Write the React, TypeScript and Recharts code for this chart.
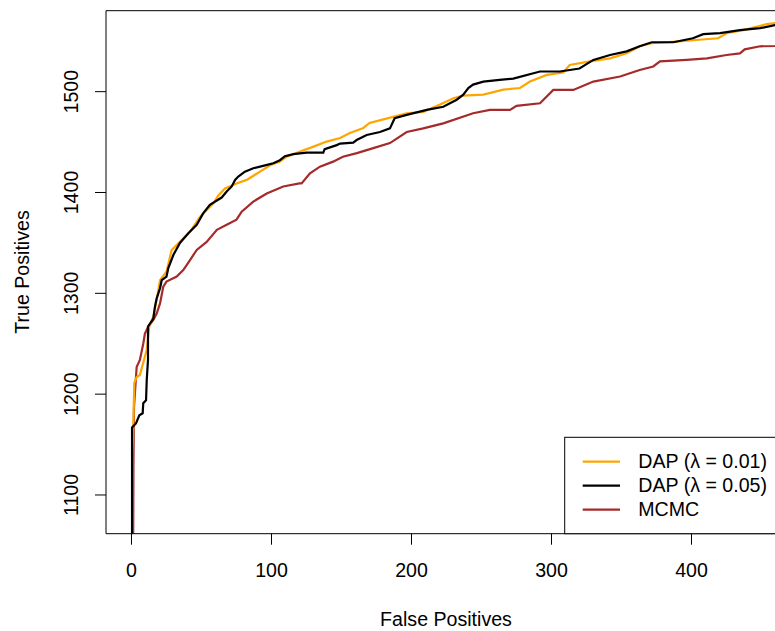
import React from 'react';
import { LineChart, Line, XAxis, YAxis, ReferenceLine } from 'recharts';

const xTicks = [0, 100, 200, 300, 400];
const yTicks = [1100, 1200, 1300, 1400, 1500];
const seriesNames = ['DAP (\u03BB = 0.01)', 'DAP (\u03BB = 0.05)', 'MCMC'];
const seriesColors = ['#FFA500', '#000000', '#A52A2A'];
const xTitle = 'False Positives';
const yTitle = 'True Positives';

const dap001FP = [0.5, 0.6, 1.3, 2, 3.7, 6, 10.9, 12.7, 15.6, 18, 20.4, 25, 28.7, 34.6, 41.8, 49, 58.4, 62, 66.8, 75, 82.3, 91.8, 99, 106, 111, 120, 130, 139.4, 149, 156, 165.6, 170, 180, 196.6, 208.4, 220, 229.9, 237, 251.3, 265.6, 277.5, 284.6, 296.6, 308.4, 313, 327.5, 341.8, 353.7, 363, 371.6, 389, 401, 419, 425, 437, 453.7, 459.6, 468];
const dap001TP = [1050, 1141, 1168, 1211, 1217, 1219, 1244, 1267, 1277, 1293.5, 1313, 1321.5, 1343, 1351, 1361, 1376, 1389, 1397, 1404, 1409, 1412.5, 1420.7, 1427, 1430.6, 1435.5, 1440.5, 1445.5, 1450.5, 1454, 1459, 1464, 1469, 1472.5, 1478.6, 1480, 1487, 1493.5, 1496, 1497, 1502, 1503.6, 1510, 1516.6, 1519, 1526.5, 1530, 1533, 1538, 1545, 1548, 1549.6, 1551, 1553, 1558, 1561, 1567, 1568, 1569];

const dap005FP = [0.4, 0.4, 3.2, 5.6, 8, 8.4, 10.4, 10.9, 11.8, 11.8, 15.6, 16.8, 18, 20.4, 21.6, 25, 26.3, 29.9, 34.6, 40.6, 46.6, 51.3, 56, 64.4, 68, 71.6, 74, 76.3, 81, 87, 94, 101.3, 106, 109.6, 115.6, 125, 137, 138, 146.6, 149, 158.4, 160.8, 168, 177.5, 184.6, 188, 196.6, 210.9, 222.7, 232.3, 237, 240.6, 244, 251.3, 263, 272.7, 291.8, 306, 320, 329.9, 341.8, 353.7, 363, 371.6, 387, 401, 408.4, 420.4, 434.6, 449, 459.6, 468];
const dap005TP = [1050, 1167, 1171, 1179, 1181, 1191, 1194, 1214, 1234, 1267, 1275, 1287, 1295, 1305, 1313, 1316.6, 1325, 1338, 1350, 1359.6, 1368, 1379.5, 1387.7, 1395, 1401, 1406, 1412.5, 1415.8, 1420.7, 1424, 1426.4, 1429, 1432, 1436, 1438, 1439.6, 1439.6, 1443, 1447, 1448.5, 1449.5, 1452, 1457, 1460, 1463.6, 1473.6, 1477, 1482, 1485, 1492, 1497, 1503.6, 1507, 1510, 1511.7, 1513, 1520, 1520, 1523, 1531.5, 1536.4, 1540, 1545, 1549, 1549, 1553, 1557, 1558, 1561, 1563, 1566, 1567];

const mcmcFP = [1.2, 1.4, 1.8, 3.7, 6, 8.4, 9.6, 12, 15.6, 18, 20.4, 22.7, 25, 32.3, 37, 41.8, 46.6, 53.7, 61, 68, 75, 78.7, 87, 96.6, 108.4, 120, 121.5, 127.5, 134.6, 144, 151, 161, 172.7, 184.6, 196.6, 208.4, 222.7, 244, 256, 270.4, 275, 291.8, 301.3, 315.6, 329.9, 349, 363, 372.7, 377.5, 396.6, 411, 425, 434.6, 438, 449, 459.6, 468];
const mcmcTP = [1050, 1130, 1187, 1227, 1234, 1250, 1260, 1267, 1273.6, 1280, 1290, 1306.6, 1311.6, 1316.6, 1323, 1333, 1343, 1351, 1363, 1368, 1373, 1381, 1391, 1399, 1406, 1409, 1409, 1419, 1425.6, 1430.6, 1435.5, 1439, 1444, 1449, 1460, 1463.6, 1468.6, 1478.6, 1482, 1482, 1486, 1488.5, 1501.7, 1501.7, 1510, 1515, 1521.5, 1525, 1530, 1531.5, 1533, 1536.4, 1538, 1542, 1545, 1545.3, 1546];

const toPoints = (fp: number[], tp: number[]) => fp.map((x, i) => ({ fp: x, tp: tp[i] }));

const dap001Data = toPoints(dap001FP, dap001TP);
const dap005Data = toPoints(dap005FP, dap005TP);
const mcmcData = toPoints(mcmcFP, mcmcTP);

const FONT = '"Liberation Sans", Arial, Helvetica, sans-serif';
const FS = 19.6;
const X_DOMAIN: [number, number] = [-18.2, 467.5];
const Y_DOMAIN: [number, number] = [1061.6, 1580.3];

const XTick = (props: any) => {
  const { x, payload } = props;
  return (
    <text x={x} y={576.7} textAnchor="middle" fontFamily={FONT} fontSize={FS} fill="#000">
      {payload.value}
    </text>
  );
};

const YTick = (props: any) => {
  const { y, payload } = props;
  return (
    <text
      x={78}
      y={y}
      transform={`rotate(-90, 78, ${y})`}
      textAnchor="middle"
      fontFamily={FONT}
      fontSize={FS}
      fill="#000"
    >
      {payload.value}
    </text>
  );
};

export default function App() {
  const legendRows = [461.7, 485.7, 509.7];
  return (
    <div style={{ position: 'absolute', left: 0, top: 0, width: 775, height: 631, overflow: 'hidden', background: '#fff' }}>
      <LineChart width={786} height={631} margin={{ top: 10.7, right: 0, bottom: 0, left: 0 }}>
        <XAxis
          type="number"
          dataKey="fp"
          domain={X_DOMAIN}
          ticks={xTicks}
          allowDataOverflow
          height={97.3}
          tickSize={11}
          tick={<XTick />}
          stroke="#000"
          axisLine={{ stroke: '#000' }}
          tickLine={{ stroke: '#000' }}
        />
        <YAxis
          type="number"
          dataKey="tp"
          domain={Y_DOMAIN}
          ticks={yTicks}
          allowDataOverflow
          width={106}
          tickSize={11}
          tick={<YTick />}
          stroke="#000"
          axisLine={{ stroke: '#000' }}
          tickLine={{ stroke: '#000' }}
        />
        <ReferenceLine y={Y_DOMAIN[1]} stroke="#000" strokeWidth={1} />
        <Line data={mcmcData} dataKey="tp" name={seriesNames[2]} stroke={seriesColors[2]} strokeWidth={2.2} dot={false} activeDot={false} isAnimationActive={false} type="linear" />
        <Line data={dap001Data} dataKey="tp" name={seriesNames[0]} stroke={seriesColors[0]} strokeWidth={2.2} dot={false} activeDot={false} isAnimationActive={false} type="linear" />
        <Line data={dap005Data} dataKey="tp" name={seriesNames[1]} stroke={seriesColors[1]} strokeWidth={2.2} dot={false} activeDot={false} isAnimationActive={false} type="linear" />
      </LineChart>
      <svg width={775} height={631} style={{ position: 'absolute', left: 0, top: 0, pointerEvents: 'none' }}>
        <text x={446} y={626} textAnchor="middle" fontFamily={FONT} fontSize={FS} fill="#000">{xTitle}</text>
        <text x={29} y={272} transform="rotate(-90, 29, 272)" textAnchor="middle" fontFamily={FONT} fontSize={FS} fill="#000">{yTitle}</text>
        <rect x={564.7} y={437.3} width={240} height={96.4} fill="#fff" stroke="#000" strokeWidth={1} />
        {seriesNames.map((n, i) => (
          <g key={n}>
            <line x1={582.7} x2={620} y1={legendRows[i]} y2={legendRows[i]} stroke={seriesColors[i]} strokeWidth={2.2} />
            <text x={638.3} y={legendRows[i] + 6} fontFamily={FONT} fontSize={FS} fill="#000">{n}</text>
          </g>
        ))}
      </svg>
    </div>
  );
}
